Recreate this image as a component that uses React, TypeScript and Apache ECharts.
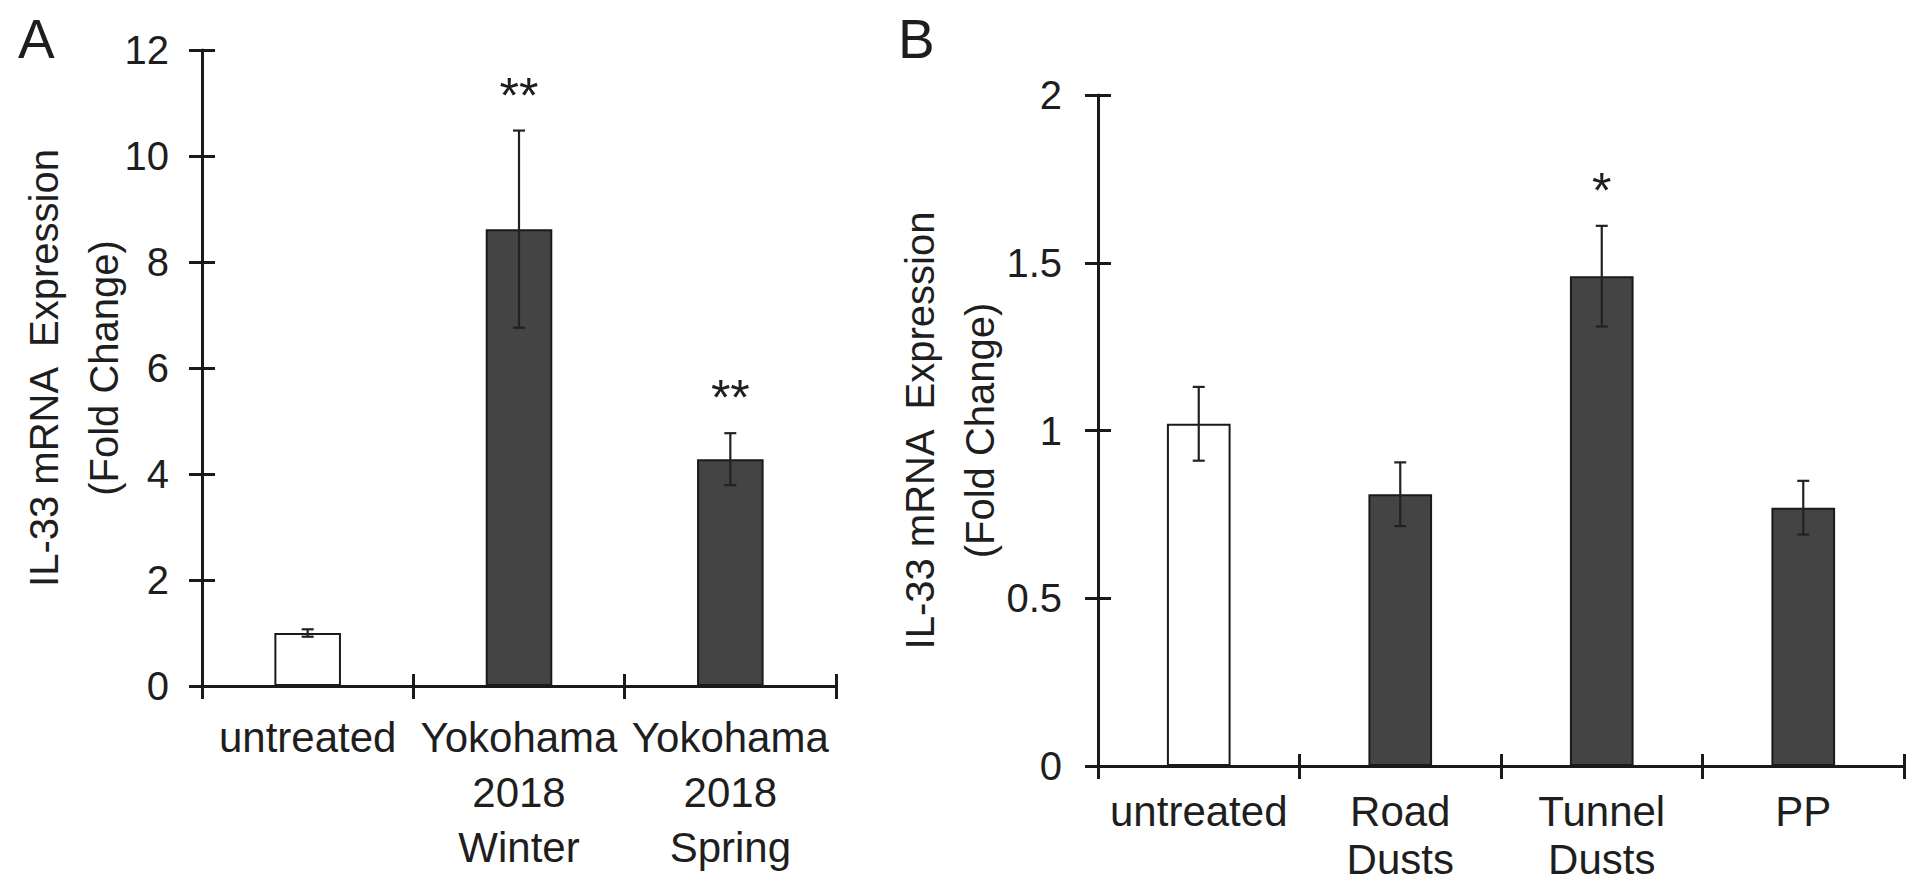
import React, { useEffect, useRef } from "react";
import * as echarts from "echarts";

const categoriesA = ["untreated", "Yokohama\n2018\nWinter", "Yokohama\n2018\nSpring"];
const meanA = [1.0, 8.62, 4.28];
const errA = [0.07, 1.86, 0.49];
const sigA = ["", "**", "**"];
const yTicksA = { min: 0, max: 12, interval: 2 };

const categoriesB = ["untreated", "Road\nDusts", "Tunnel\nDusts", "PP"];
const meanB = [1.02, 0.81, 1.46, 0.77];
const errB = [0.11, 0.095, 0.15, 0.08];
const sigB = ["", "", "*", ""];
const yTicksB = { min: 0, max: 2, interval: 0.5 };

const yTitle = "IL-33 mRNA  Expression\n(Fold Change)";

const FONT = "Arial, 'Liberation Sans', sans-serif";
const TXT = "#1e1e1e";
const AXIS = "#1a1a1a";
const DARK = "#444444";

function barData(means: number[]) {
  return means.map((v, i) => ({
    value: v,
    itemStyle: { color: i === 0 ? "#ffffff" : DARK },
  }));
}

function errSeries(means: number[], errs: number[], sig: string[], xi: number, yi: number) {
  return {
    type: "custom",
    xAxisIndex: xi,
    yAxisIndex: yi,
    clip: false,
    z: 5,
    data: means.map((m, i) => [i, m, errs[i]]),
    renderItem: (params: any, api: any) => {
      const i = api.value(0);
      const m = api.value(1);
      const e = api.value(2);
      const top = api.coord([i, m + e]);
      const bot = api.coord([i, m - e]);
      const half = 6;
      const st = { stroke: "#222222", lineWidth: 2.2 };
      const children: any[] = [
        { type: "line", shape: { x1: top[0], y1: top[1], x2: bot[0], y2: bot[1] }, style: st },
        { type: "line", shape: { x1: top[0] - half, y1: top[1], x2: top[0] + half, y2: top[1] }, style: st },
        { type: "line", shape: { x1: bot[0] - half, y1: bot[1], x2: bot[0] + half, y2: bot[1] }, style: st },
      ];
      if (sig[i]) {
        children.push({
          type: "text",
          x: top[0],
          y: top[1] - 10,
          style: {
            text: sig[i],
            fill: TXT,
            font: `50px ${FONT}`,
            align: "center",
            verticalAlign: "bottom",
          },
        });
      }
      return { type: "group", children };
    },
  };
}

export default function App() {
  const ref = useRef<HTMLDivElement>(null);
  useEffect(() => {
    if (!ref.current) return;
    const chart = echarts.init(ref.current, undefined, { renderer: "svg" });
    const tickStyle = { color: AXIS, width: 3 };
    const lineStyle = { color: AXIS, width: 3 };
    const xLabel = (lh: number, mg: number) => ({
      interval: 0,
      color: TXT,
      fontSize: 42,
      fontFamily: FONT,
      lineHeight: lh,
      margin: mg,
      hideOverlap: false,
    });
    const yLabel = (m: number) => ({ color: TXT, fontSize: 40, fontFamily: FONT, margin: m });
    const nameStyle = { color: TXT, fontSize: 40, fontFamily: FONT, lineHeight: 60 };

    const option: any = {
      animation: false,
      backgroundColor: "#ffffff",
      title: [
        { text: "A", left: 13, top: 6, textStyle: { fontSize: 55, fontWeight: "normal", color: TXT, fontFamily: FONT } },
        { text: "B", left: 893, top: 6, textStyle: { fontSize: 55, fontWeight: "normal", color: TXT, fontFamily: FONT } },
      ],
      grid: [
        { left: 202, top: 50, width: 634, height: 636, containLabel: false, outerBoundsMode: "none" },
        { left: 1098, top: 95, width: 806, height: 671, containLabel: false, outerBoundsMode: "none" },
      ],
      xAxis: [
        {
          type: "category", gridIndex: 0, data: categoriesA, position: "bottom",
          axisLine: { lineStyle }, axisTick: { show: true, interval: 0, length: 13, lineStyle: tickStyle },
          axisLabel: xLabel(55, 24),
        },
        {
          type: "category", gridIndex: 1, data: categoriesB, position: "bottom",
          axisLine: { lineStyle }, axisTick: { show: true, interval: 0, length: 13, lineStyle: tickStyle },
          axisLabel: xLabel(48, 21),
        },
        {
          type: "category", gridIndex: 0, data: categoriesA, position: "bottom", offset: 0,
          axisLine: { show: false }, axisTick: { show: true, inside: true, interval: 0, length: 12, lineStyle: tickStyle },
          axisLabel: { show: false },
        },
        {
          type: "category", gridIndex: 1, data: categoriesB, position: "bottom", offset: 0,
          axisLine: { show: false }, axisTick: { show: true, inside: true, interval: 0, length: 12, lineStyle: tickStyle },
          axisLabel: { show: false },
        },
      ],
      yAxis: [
        {
          type: "value", gridIndex: 0, ...yTicksA, position: "left",
          splitLine: { show: false },
          axisLine: { show: true, lineStyle }, axisTick: { show: true, length: 13, lineStyle: tickStyle },
          axisLabel: yLabel(33),
          name: yTitle, nameLocation: "middle", nameRotate: 90, nameGap: 68, nameMoveOverlap: false,
          nameTextStyle: nameStyle,
        },
        {
          type: "value", gridIndex: 1, ...yTicksB, position: "left",
          splitLine: { show: false },
          axisLine: { show: true, lineStyle }, axisTick: { show: true, length: 13, lineStyle: tickStyle },
          axisLabel: yLabel(36),
          name: yTitle, nameLocation: "middle", nameRotate: 90, nameGap: 88, nameMoveOverlap: false,
          nameTextStyle: nameStyle,
        },
        {
          type: "value", gridIndex: 0, ...yTicksA, position: "left", offset: 0,
          splitLine: { show: false },
          axisLine: { show: false }, axisTick: { show: true, inside: true, length: 13, lineStyle: tickStyle },
          axisLabel: { show: false },
        },
        {
          type: "value", gridIndex: 1, ...yTicksB, position: "left", offset: 0,
          splitLine: { show: false },
          axisLine: { show: false }, axisTick: { show: true, inside: true, length: 13, lineStyle: tickStyle },
          axisLabel: { show: false },
        },
      ],
      series: [
        {
          type: "bar", xAxisIndex: 0, yAxisIndex: 0, data: barData(meanA), barWidth: "31.5%",
          itemStyle: { borderColor: "#1a1a1a", borderWidth: 2 },
        },
        {
          type: "bar", xAxisIndex: 1, yAxisIndex: 1, data: barData(meanB), barWidth: "31.6%",
          itemStyle: { borderColor: "#1a1a1a", borderWidth: 2 },
        },
        errSeries(meanA, errA, sigA, 0, 0),
        errSeries(meanB, errB, sigB, 1, 1),
      ],
    };
    chart.setOption(option);
    return () => chart.dispose();
  }, []);
  return (
    <div
      ref={ref}
      style={{ position: "absolute", left: 0, top: 0, width: "1920px", height: "886px", background: "#fff" }}
    />
  );
}
